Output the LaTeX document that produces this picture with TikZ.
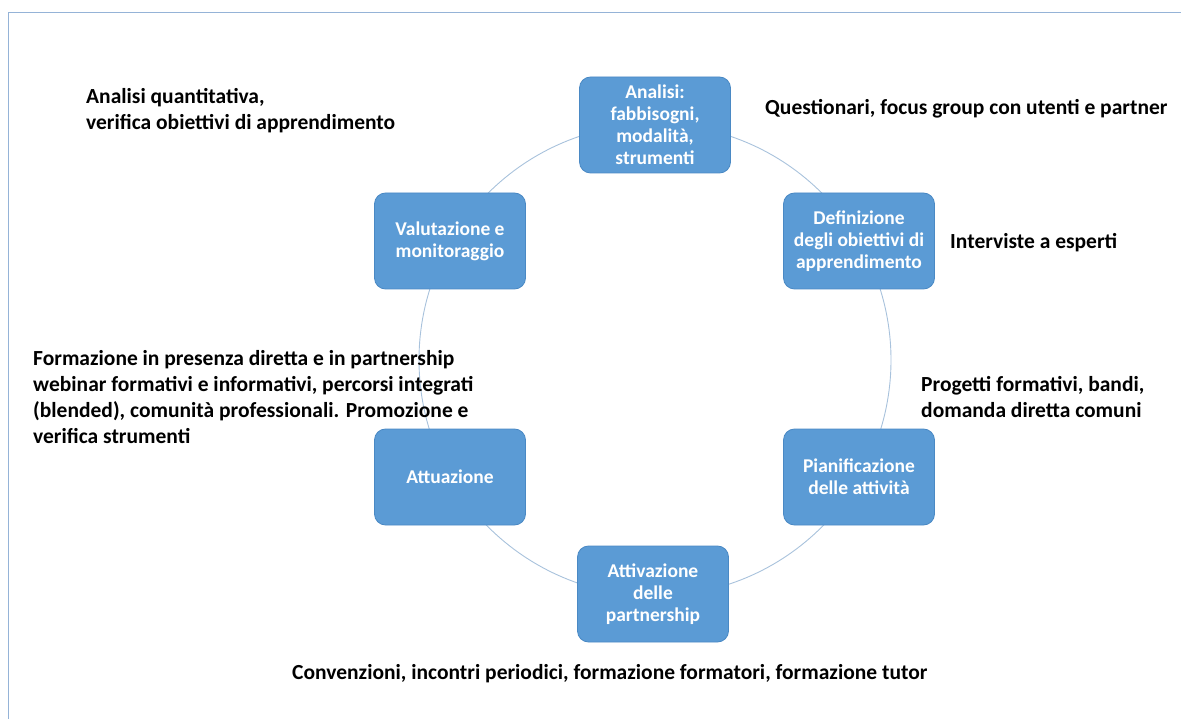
\documentclass[tikz,border=0pt]{standalone}
\usepackage{fontspec}
\setmainfont{Carlito}
\definecolor{boxblue}{HTML}{5B9BD5}
\definecolor{boxedge}{HTML}{4A89C4}
\definecolor{ringc}{HTML}{A8C2DC}
\definecolor{framec}{HTML}{95B3D7}
\begin{document}
\begin{tikzpicture}[x=1pt,y=-1pt,
  stage/.style={draw=boxedge,line width=0.8pt,fill=boxblue,rounded corners=11pt,
    minimum width=151pt,minimum height=96pt,align=center,text=white,
    font=\fontsize{19.5}{22}\selectfont\bfseries,inner sep=2pt},
  note/.style={align=left,anchor=west,font=\fontsize{21.5}{26}\selectfont\bfseries,inner sep=0pt,text=black}]
\useasboundingbox (0,0) rectangle (1181,719);
\draw[framec,line width=1.4pt] (8.5,1000) -- (8.5,12.5) -- (1200,12.5);
\coordinate (c) at (655,360);
\draw[ringc,line width=0.9pt] (c) circle[radius=236pt];
\node[stage] (a) at (655,125) {Analisi:\\fabbisogni,\\modalità,\\strumenti};
\node[stage] (d) at (859,241) {Definizione\\degli obiettivi di\\apprendimento};
\node[stage] (p) at (859,477) {Pianificazione\\delle attività};
\node[stage] (t) at (653,594) {Attivazione\\delle\\partnership};
\node[stage] (u) at (450,477) {Attuazione};
\node[stage] (v) at (450,241) {Valutazione e\\monitoraggio};
\node[note] (na) at (86,111) {Analisi quantitativa,\\verifica obiettivi di apprendimento};
\node[note] (nq) at (765,109) {Questionari, focus group con utenti e partner};
\node[note] (ni) at (950,243) {Interviste a esperti};
\node[note] (np) at (921,397) {Progetti formativi, bandi,\\domanda diretta comuni};
\node[note] (nf) at (33,397) {Formazione in presenza diretta e in partnership\\webinar formativi e informativi, percorsi integrati\\(blended), comunità professionali. Promozione e\\verifica strumenti};
\node[note] (nc) at (292,674) {Convenzioni, incontri periodici, formazione formatori, formazione tutor};
\end{tikzpicture}
\end{document}
